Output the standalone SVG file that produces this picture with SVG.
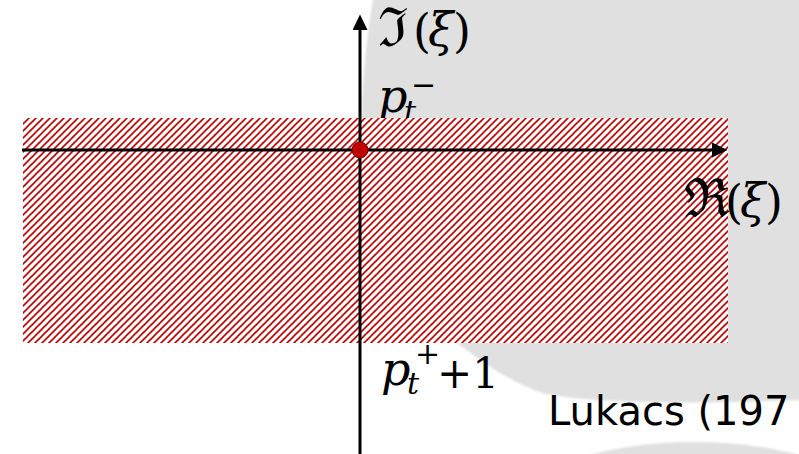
<svg xmlns="http://www.w3.org/2000/svg" width="799" height="454" viewBox="0 0 799 454">
  <defs>
    <style>
      .math { font-family: "DejaVu Serif", "Liberation Serif", serif; fill: #000; }
      .it { font-style: italic; }
      .frak { font-size: 54px; }
      .axis { stroke: #000; stroke-width: 3; fill: none; }
      .label { font-family: "DejaVu Sans", "Liberation Sans", sans-serif; font-size: 40px; fill: #000; }
    </style>
    <pattern id="hatch" patternUnits="userSpaceOnUse" width="7" height="7">
      <path d="M-2,2 L2,-2 M0,7 L7,0 M5,9 L9,5" stroke="#C00000" stroke-width="1.6"/>
    </pattern>
    <marker id="arrow" markerUnits="userSpaceOnUse" markerWidth="16" markerHeight="16" refX="0" refY="7.5" orient="auto">
      <path d="M0,0 L15.5,7.5 L0,15 z" fill="#000"/>
    </marker>
    <filter id="soft" x="-5%" y="-5%" width="110%" height="110%">
      <feGaussianBlur stdDeviation="1.2"/>
    </filter>
  </defs>

  <rect width="799" height="454" fill="#FFFFFF"/>
  <g id="background" filter="url(#soft)">
    <path d="M374,-5 C365,40 361,100 361,150 C361,230 400,300 457,343 C490,368 515,384 545,394 C600,404 700,404 805,400 L805,-5 Z" fill="#E0E0E0"/>
    <ellipse cx="694" cy="500" rx="165" ry="58" fill="#E0E0E0"/>
  </g>

  <g id="label-pminus">
    <text class="math it" x="378" y="112" font-size="46">p</text>
    <text class="math it" x="404" y="122" font-size="30">t</text>
    <text class="math" x="411" y="95" font-size="30">−</text>
  </g>

  <g id="region">
    <rect x="23" y="118" width="705" height="225" fill="#FFFFFF"/>
    <rect x="23" y="118" width="705" height="225" fill="url(#hatch)"/>
  </g>

  <g id="connectors">
    <line class="axis" x1="360" y1="454" x2="360" y2="30" marker-end="url(#arrow)"/>
    <line class="axis" x1="22" y1="150" x2="712" y2="150" marker-end="url(#arrow)"/>
  </g>

  <g id="origin">
    <circle cx="360" cy="150" r="8" fill="#C00000" stroke="#7A0000" stroke-width="1"/>
  </g>

  <g id="label-im">
    <text class="math frak" x="378" y="46">ℑ</text>
    <text class="math" x="413" y="47" font-size="46">(</text>
    <text class="math it" x="428" y="46" font-size="46">ξ</text>
    <text class="math" x="453" y="47" font-size="46">)</text>
  </g>

  <g id="label-re">
    <text class="math frak" x="684" y="217">ℜ</text>
    <text class="math" x="725" y="218" font-size="46">(</text>
    <text class="math it" x="740" y="217" font-size="46">ξ</text>
    <text class="math" x="765" y="218" font-size="46">)</text>
  </g>

  <g id="label-pplus">
    <text class="math it" x="381" y="385" font-size="46">p</text>
    <text class="math it" x="407" y="394" font-size="30">t</text>
    <text class="math" x="415" y="364" font-size="30">+</text>
    <text class="math" x="437" y="388" font-size="42">+1</text>
  </g>

  <g id="citation">
    <text class="label" x="548" y="425">Lukacs (197</text>
  </g>
</svg>
